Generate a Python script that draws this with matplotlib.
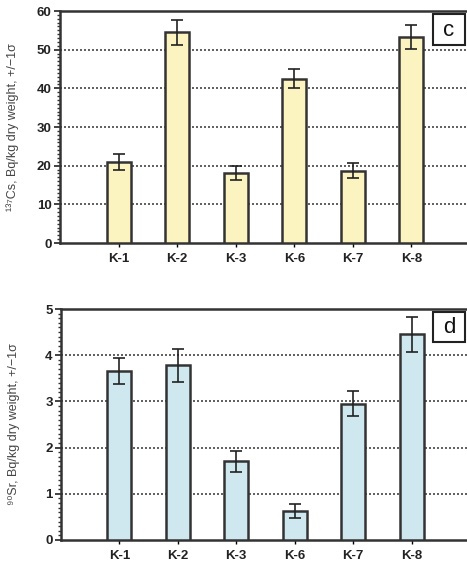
import matplotlib
matplotlib.use("Agg")
import matplotlib.pyplot as plt
from matplotlib.ticker import MultipleLocator
from matplotlib.patches import Rectangle

plt.rcParams['font.family'] = ['Liberation Sans', 'DejaVu Sans']

sites = ["K-1", "K-2", "K-3", "K-6", "K-7", "K-8"]
cs137 = [21.0, 54.5, 18.0, 42.5, 18.7, 53.3]
cs137_err = [2.0, 3.2, 1.8, 2.5, 2.0, 3.0]
sr90 = [3.65, 3.78, 1.70, 0.63, 2.95, 4.45]
sr90_err = [0.28, 0.35, 0.22, 0.15, 0.27, 0.37]

panels = [
    dict(vals=cs137, err=cs137_err, color="#fbf4c0", ymax=60, major=10, minor=1,
         label="\u00b9\u00b3\u2077Cs, Bq/kg dry weight, +/\u22121\u03c3", tag="c",
         rect=[60 / 467, 1 - 243 / 570, 410 / 467, 232 / 570]),
    dict(vals=sr90, err=sr90_err, color="#cfe8f0", ymax=5, major=1, minor=0.1,
         label="\u2079\u2070Sr, Bq/kg dry weight, +/\u22121\u03c3", tag="d",
         rect=[61 / 467, 1 - 540 / 570, 409 / 467, 231 / 570]),
]

fig = plt.figure(figsize=(4.67, 5.70), dpi=100)

for p in panels:
    ax = fig.add_axes(p["rect"])
    x = list(range(1, len(sites) + 1))
    ax.bar(x, p["vals"], width=0.41, color=p["color"], edgecolor="#333333",
           linewidth=1.8, zorder=3)
    ax.errorbar(x, p["vals"], yerr=p["err"], fmt="none", ecolor="#222222",
                elinewidth=1.2, capsize=4, capthick=1.2, zorder=4)
    ax.set_xlim(0, 7)
    ax.set_ylim(0, p["ymax"])
    ax.set_xticks(x)
    ax.set_xticklabels(sites, fontsize=9.5, fontweight="bold", color="#222222")
    ax.yaxis.set_major_locator(MultipleLocator(p["major"]))
    ax.yaxis.set_minor_locator(MultipleLocator(p["minor"]))
    ax.tick_params(axis="y", which="major", direction="out", length=4, width=1.2,
                   labelsize=9.5, colors="#222222", pad=2)
    ax.tick_params(axis="y", which="minor", direction="out", length=2.5, width=1.0,
                   colors="#333333")
    ax.tick_params(axis="x", direction="out", length=3, width=1.0, pad=4)
    for t in ax.get_yticklabels():
        t.set_fontweight("bold")
    for v in range(1, int(p["ymax"] / p["major"])):
        ax.axhline(v * p["major"], color="#444444", linestyle=(0, (1.2, 1.2)),
                   linewidth=1.2, zorder=1)
    for side in ["left", "bottom", "top", "right"]:
        ax.spines[side].set_color("#333333")
        ax.spines[side].set_linewidth(1.8)
    ax.set_ylabel(p["label"], fontsize=9, color="#444444")
    ax.yaxis.set_label_coords(-0.1, 0.5)
    ax.add_patch(Rectangle((0.91, 0.855), 0.078, 0.13, transform=ax.transAxes,
                           facecolor="white", edgecolor="#222222", linewidth=1.5,
                           zorder=5, clip_on=False))
    ax.text(0.949, 0.918, p["tag"], transform=ax.transAxes, fontsize=16,
            ha="center", va="center", color="#111111", zorder=6)

fig.savefig("out.png", dpi=100)
